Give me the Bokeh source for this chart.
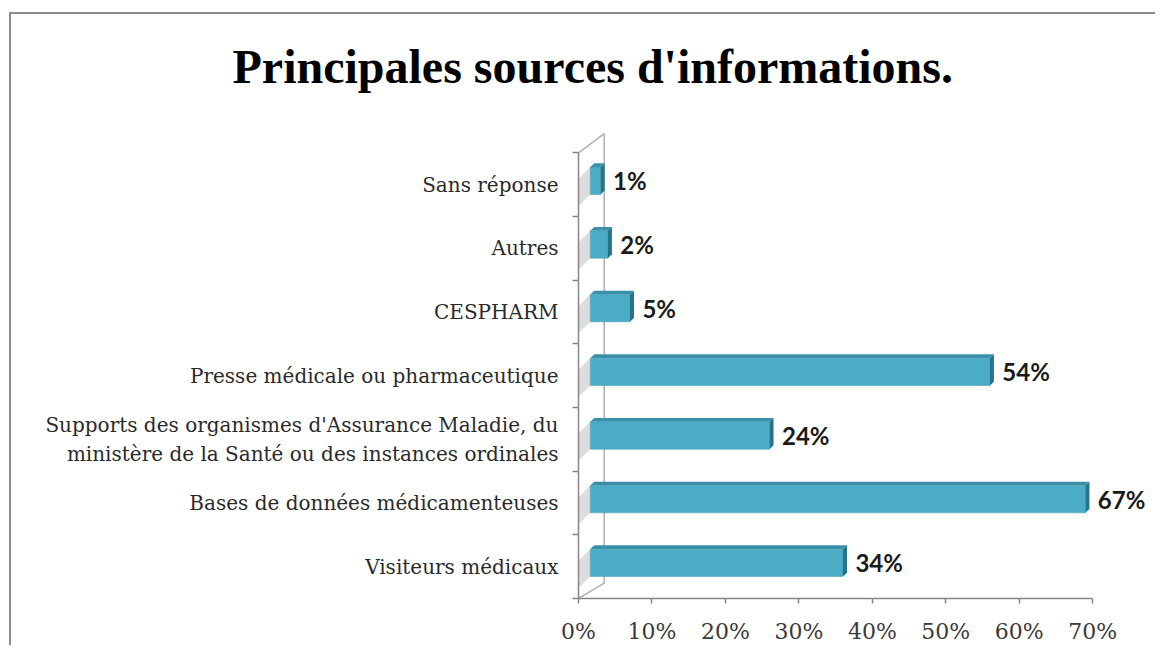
from bokeh.plotting import figure
from bokeh.models import Range1d, FixedTicker, LinearAxis, LabelSet, ColumnDataSource
from bokeh.core.properties import value
from bokeh.embed import file_html
from bokeh.resources import INLINE

# ---- data ----
categories = [
    "Visiteurs médicaux",
    "Bases de données médicamenteuses",
    "Supports des organismes d'Assurance Maladie, du\nministère de la Santé ou des instances ordinales",
    "Presse médicale ou pharmaceutique",
    "CESPHARM",
    "Autres",
    "Sans réponse",
]
values = [34, 67, 24, 54, 5, 2, 1]
x_ticks = [0, 10, 20, 30, 40, 50, 60, 70]
x_tick_labels = ["0%", "10%", "20%", "30%", "40%", "50%", "60%", "70%"]
title_text = "Principales sources d'informations."

# ---- style constants (3D look) ----
X0 = 1.6        # bar front-face start (depth shift, % units)
DX = 2.0        # bar front-face end shift
H = 0.43        # bar height (category units)
YSH = 0.06      # vertical depth shift
TDX = 0.55      # top/side face depth in x
TDY = 0.06      # top/side face depth in y
WALL_X = 3.5
FRONT = "#4BACC6"
TOPC = "#3A8FA9"
SIDE = "#2B7188"
AXC = "#868686"

n = len(categories)
ypos = list(range(n))

p = figure(width=1146, height=633, x_range=Range1d(0, 78), y_range=Range1d(-0.5, 7.18),
           x_axis_type=None, y_axis_type=None, toolbar_location=None, output_backend="svg",
           min_border_left=567, min_border_right=6, min_border_top=95, min_border_bottom=49)
p.outline_line_color = None
p.xgrid.visible = False
p.ygrid.visible = False
p.background_fill_color = "white"
p.styles = {"border-top": "2px solid #8c8c8c", "border-left": "2px solid #8c8c8c",
            "margin-top": "12px", "margin-left": "9px"}

# title
p.title.text = title_text
p.title.text_font = "Liberation Serif"
p.title.text_font_style = "bold"
p.title.text_font_size = "48px"
p.title.text_color = "black"
p.title.align = "left"
p.title.offset = -346
p.title.standoff = 34

# axes
xaxis = LinearAxis(ticker=FixedTicker(ticks=x_ticks, minor_ticks=[]), bounds=(0, 70),
                   major_label_overrides={t: l for t, l in zip(x_ticks, x_tick_labels)})
xaxis.axis_line_color = AXC
xaxis.axis_line_width = 1.5
xaxis.major_tick_line_color = AXC
xaxis.major_tick_line_width = 1.5
xaxis.major_tick_in = 0
xaxis.major_tick_out = 5
xaxis.minor_tick_line_color = None
xaxis.major_label_text_font = "DejaVu Serif"
xaxis.major_label_text_font_size = "22px"
xaxis.major_label_text_color = "#3a3a3a"
xaxis.major_label_standoff = 15
p.add_layout(xaxis, "below")

yaxis = LinearAxis(ticker=FixedTicker(ticks=ypos, minor_ticks=[i - 0.5 for i in range(n + 1)]),
                   bounds=(-0.5, n - 0.5),
                   major_label_overrides={i: c for i, c in zip(ypos, categories)})
yaxis.axis_line_color = AXC
yaxis.axis_line_width = 1.5
yaxis.major_tick_line_color = None
yaxis.major_tick_in = 0
yaxis.major_tick_out = 0
yaxis.minor_tick_line_color = AXC
yaxis.minor_tick_line_width = 1.5
yaxis.minor_tick_in = 0
yaxis.minor_tick_out = 6
yaxis.major_label_text_font = "DejaVu Serif"
yaxis.major_label_text_font_size = "20px"
yaxis.major_label_text_color = "#2a2a2a"
yaxis.major_label_standoff = 14
p.add_layout(yaxis, "left")

# side wall (3D)
p.segment(x0=[0, 0, WALL_X], y0=[n - 0.5, -0.5, -0.26], x1=[WALL_X, WALL_X, WALL_X], y1=[n - 0.2, -0.26, n - 0.2],
          line_color="#AFAFAF", line_width=1.5)

# bar shadows on wall
sh_xs, sh_ys = [], []
for i in ypos:
    b = i + YSH - H / 2
    t = i + YSH + H / 2
    sh_xs.append([0, X0, X0, 0])
    sh_ys.append([b - 0.18, b, t, t - 0.18])
p.patches(sh_xs, sh_ys, fill_color="#D5D5D5", fill_alpha=0.8, line_color=None)

# bars
src = ColumnDataSource(dict(
    y=ypos, v=values,
    left=[X0] * n,
    right=[v + DX for v in values],
    bottom=[i + YSH - H / 2 for i in ypos],
    top=[i + YSH + H / 2 for i in ypos],
    lx=[v + DX + 1.7 for v in values],
    ly=[i + YSH for i in ypos],
    lab=[f"{v}%" for v in values],
))
top_xs, top_ys, side_xs, side_ys = [], [], [], []
for i, v in zip(ypos, values):
    b = i + YSH - H / 2
    t = i + YSH + H / 2
    r = v + DX
    top_xs.append([X0, r, r + TDX, X0 + TDX])
    top_ys.append([t, t, t + TDY, t + TDY])
    side_xs.append([r, r + TDX, r + TDX, r])
    side_ys.append([b, b + TDY, t + TDY, t])
p.patches(top_xs, top_ys, fill_color=TOPC, line_color=None)
p.quad(left="left", right="right", bottom="bottom", top="top", source=src,
       fill_color=FRONT, line_color="#3E9AB5", line_width=0.5)
p.patches(side_xs, side_ys, fill_color=SIDE, line_color=None)

labels = LabelSet(x="lx", y="ly", text="lab", source=src, text_font=value("Lato"),
                  text_font_style="bold", text_font_size="24px", text_color="#1a1a1a",
                  text_align="left", text_baseline="middle")
p.add_layout(labels)

open("out.html", "w").write(file_html(p, INLINE))
